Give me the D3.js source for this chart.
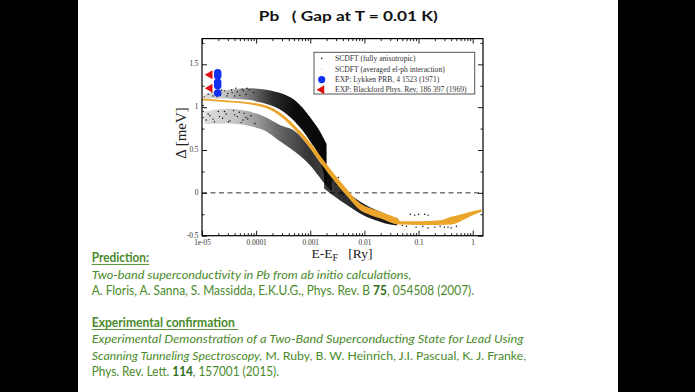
<!DOCTYPE html>
<html><head><meta charset="utf-8">
<script src="https://cdn.jsdelivr.net/npm/d3@7"></script>
<style>body{margin:0;background:#000}svg{display:block}</style>
</head><body><svg id="c" width="695" height="392"></svg>
<script>
// ---------- data ----------
const xTickValues = [1e-5, 1e-4, 1e-3, 1e-2, 1e-1, 1];
const xTickLabels = ["1e-05", "0.0001", "0.001", "0.01", "0.1", "1"];
const yTickValues = [-0.5, 0, 0.5, 1, 1.5];
const yTickLabels = ["-0.5", "0", "0.5", "1", "1.5"];
const yMinorValues = [-0.25, 0.25, 0.75, 1.25, 1.75];

const legendLabels = ["SCDFT (fully anisotropic)", "SCDFT (averaged el-ph interaction)",
  "EXP: Lykken PRB, 4 1523 (1971)", "EXP: Blackford Phys. Rev, 186 397 (1969)"];

// SCDFT fully anisotropic: upper band (dense cloud) edges
const aX  = [1.1e-5, 2e-5, 4e-5, 7e-5, 1.3e-4, 2.6e-4, 5.2e-4, 1e-3, 1.5e-3, 2e-3];
const aHi = [1.15, 1.19, 1.21, 1.22, 1.21, 1.17, 1.08, 0.88, 0.72, 0.57];
const aLo = [1.10, 1.10, 1.095, 1.085, 1.05, 0.98, 0.83, 0.60, 0.40, 0.08];
// lower band
const bX  = [1.1e-5, 3e-5, 1.3e-4, 2.8e-4, 5.2e-4, 1e-3, 1.5e-3, 2e-3, 2.5e-3];
const bHi = [0.95, 0.98, 0.90, 0.79, 0.72, 0.52, 0.36, 0.25, 0.17];
const bLo = [0.80, 0.81, 0.74, 0.60, 0.48, 0.32, 0.18, 0.08, 0.02];
// merged band after the crossing
const cX  = [1.8e-3, 2.5e-3, 3.5e-3, 5e-3, 8.3e-3, 1.3e-2, 2e-2, 3e-2, 4e-2];
const cHi = [0.30, 0.20, 0.09, 0.0, -0.10, -0.17, -0.22, -0.28, -0.31];
const cLo = [0.05, -0.02, -0.085, -0.15, -0.24, -0.30, -0.34, -0.37, -0.38];
// isolated anisotropic points
const sX = [1.05e-5,1.05e-5,1.05e-5,1.1e-5,1.3e-5,1.6e-5,1.8e-5,2.2e-5,2.6e-5,3e-5,3.5e-5,4e-5,4.5e-5,5.5e-5,6.5e-5,7.5e-5,9e-5,
  1.2e-5,1.4e-5,1.7e-5,2e-5,2.4e-5,2.8e-5,3.3e-5,3.8e-5,4.5e-5,5.3e-5,6e-5,7e-5,8e-5,9.5e-5,
  1.5e-5,1.9e-5,2.3e-5,2.9e-5,3.6e-5,4.2e-5,5e-5,5.8e-5,6.8e-5,
  1.3e-5,1.6e-5,2.1e-5,2.6e-5,3.1e-5,4e-5,4.9e-5,5.7e-5,6.5e-5,
  2.2e-3,2.6e-3,3e-3,3.3e-3,2.4e-3,4e-3,5.5e-3,6.5e-3,
  0.07,0.085,0.1,0.13,0.15,0.06,0.09,0.15,0.2,0.3,0.4,0.5,0.6,0.8,0.05,0.12,0.25,0.35];
const sY = [1.02,0.95,0.88,1.12,1.15,1.13,1.17,1.14,1.19,1.16,1.2,1.13,1.18,1.21,1.15,1.2,1.17,
  0.85,0.9,0.83,0.95,0.87,0.92,0.84,0.96,0.89,0.82,0.93,0.86,0.9,0.81,
  1.18,1.12,1.2,1.13,1.17,1.22,1.14,1.19,1.22,
  0.92,0.86,0.89,0.95,0.83,0.91,0.94,0.85,0.88,
  0.2,0.15,0.1,0.18,0.05,-0.02,-0.05,-0.1,
  -0.25,-0.26,-0.25,-0.25,-0.26,-0.39,-0.40,-0.41,-0.40,-0.40,-0.41,-0.39,-0.30,-0.28,-0.38,-0.39,-0.39,-0.40];

// SCDFT averaged el-ph interaction: band edges
const oX  = [1e-5, 3e-5, 1e-4, 2e-4, 3e-4, 5e-4, 7e-4, 1e-3, 1.5e-3, 2.3e-3, 3.5e-3, 4.8e-3, 8.3e-3, 1.3e-2, 2e-2, 3.5e-2, 4.2e-2, 4.5e-2, 0.1, 0.25, 0.4, 0.7, 1.1, 1.45];
const oHi = [1.10, 1.077, 1.045, 0.99, 0.92, 0.795, 0.70, 0.585, 0.44, 0.285, 0.14, 0.04, -0.12, -0.18, -0.22, -0.28, -0.30, -0.33, -0.33, -0.32, -0.28, -0.24, -0.21, -0.19];
const oLo = [1.08, 1.057, 1.02, 0.955, 0.88, 0.745, 0.64, 0.515, 0.36, 0.205, 0.06, -0.04, -0.20, -0.26, -0.30, -0.36, -0.37, -0.37, -0.375, -0.375, -0.37, -0.31, -0.25, -0.22];

// experiments
const lykkenX = [1.95e-5, 1.95e-5, 1.95e-5, 1.95e-5, 1.95e-5];
const lykkenY = [1.40, 1.367, 1.29, 1.25, 1.165];
const blackfordX = [1.4e-5, 1.4e-5];
const blackfordY = [1.378, 1.222];

// ---------- drawing ----------
const svg = d3.select("#c");
svg.append("rect").attr("width", 695).attr("height", 392).attr("fill", "#000");
svg.append("rect").attr("x", 78).attr("width", 540).attr("height", 392).attr("fill", "#fff");

const L = 202, R = 483, T = 38.6, B = 235.7;
const x = d3.scaleLog().domain([1e-5, 1.55]).range([L, R]);
const y = d3.scaleLinear().domain([-0.5, 1.8]).range([B, T]);

// title
svg.append("text").attr("x", 348.3).attr("y", 20.5).attr("text-anchor", "middle")
  .attr("font-family", "Lato, 'Open Sans', sans-serif").attr("font-weight", "bold").attr("font-size", 13.5)
  .attr("fill", "#111").style("white-space", "pre")
  .attr("textLength", 179).attr("lengthAdjust", "spacingAndGlyphs")
  .text("Pb   ( Gap at T = 0.01 K)");

const defs = svg.append("defs");
defs.append("clipPath").attr("id", "clip").append("rect")
  .attr("x", L).attr("y", T).attr("width", R - L).attr("height", B - T);

function grad(id, stops) {
  const g = defs.append("linearGradient").attr("id", id).attr("gradientUnits", "userSpaceOnUse")
    .attr("x1", L).attr("x2", R).attr("y1", 0).attr("y2", 0);
  stops.forEach(s => g.append("stop").attr("offset", (x(s[0]) - L) / (R - L)).attr("stop-color", "#000").attr("stop-opacity", s[1]));
  return `url(#${id})`;
}
const gA = grad("gA", [[1e-5, 0.12], [3e-5, 0.25], [8e-5, 0.55], [2e-4, 0.82], [5e-4, 0.95], [2e-3, 0.97]]);
const gB = grad("gB", [[1e-5, 0.12], [5e-5, 0.25], [1.3e-4, 0.45], [3e-4, 0.62], [1e-3, 0.8], [2.5e-3, 0.75]]);
const gC = grad("gC", [[1.8e-3, 0.75], [1e-2, 0.88], [4e-2, 0.92]]);

const plot = svg.append("g").attr("clip-path", "url(#clip)");

function band(xs, lo, hi, fill) {
  const pts = xs.map((v, i) => [v, lo[i], hi[i]]);
  plot.append("path").datum(pts)
    .attr("d", d3.area().x(d => x(d[0])).y0(d => y(d[1])).y1(d => y(d[2])).curve(d3.curveMonotoneX))
    .attr("fill", fill);
}
// zero line
plot.append("line").attr("x1", L).attr("x2", R).attr("y1", y(0)).attr("y2", y(0))
  .attr("stroke", "#333").attr("stroke-width", 1).attr("stroke-dasharray", "5,3.5");

band(aX, aLo, aHi, gA);
band(bX, bLo, bHi, gB);
band(cX, cLo, cHi, gC);
plot.append("g").selectAll("circle").data(sX.map((v, i) => [v, sY[i]])).join("circle")
  .attr("cx", d => x(d[0])).attr("cy", d => y(d[1])).attr("r", 0.7).attr("fill", "#000");
band(oX, oLo, oHi, "#eba52a");

// experiments
const tri = d3.symbol().type(d3.symbolTriangle).size(34);
svg.append("g").selectAll("path").data(blackfordX.map((v, i) => [v, blackfordY[i]])).join("path")
  .attr("d", tri).attr("transform", d => `translate(${x(d[0])},${y(d[1])}) rotate(-90)`)
  .attr("fill", "#e01010");
svg.append("g").selectAll("circle").data(lykkenX.map((v, i) => [v, lykkenY[i]])).join("circle")
  .attr("cx", d => x(d[0])).attr("cy", d => y(d[1])).attr("r", 3.8).attr("fill", "#1030f0");

// axes with inward ticks on all four sides
const serif = "'Liberation Serif', 'DejaVu Serif', serif";
const minorX = [];
for (let e = -5; e <= 0; e++) for (let k = 2; k <= 9; k++) { const v = k * Math.pow(10, e); if (v <= 1.55) minorX.push(v); }
function axis(gen, tx, ty, vals, size, labels, pad) {
  const a = gen.tickValues(vals).tickSizeInner(-size).tickSizeOuter(0).tickPadding(pad || 3)
    .tickFormat(labels ? (d, i) => labels[i] : "");
  const g = svg.append("g").attr("transform", `translate(${tx},${ty})`).call(a);
  g.select(".domain").remove();
  g.selectAll("line").attr("stroke", "#000").attr("stroke-width", 0.9);
  g.selectAll("text").attr("font-family", serif).attr("font-size", 7.3).attr("fill", "#333");
  return g;
}
axis(d3.axisBottom(x), 0, B, xTickValues, 5, xTickLabels, 4);
axis(d3.axisBottom(x), 0, B, minorX, 2.5, null);
axis(d3.axisTop(x), 0, T, xTickValues, 5, null);
axis(d3.axisTop(x), 0, T, minorX, 2.5, null);
const yl = axis(d3.axisLeft(y), L, 0, yTickValues, 5, yTickLabels, 3.5);
yl.selectAll("text").attr("dy", "0.2em");
axis(d3.axisLeft(y), L, 0, yMinorValues.filter(v => v < 1.8), 2.5, null);
axis(d3.axisRight(y), R, 0, yTickValues, 5, null);
axis(d3.axisRight(y), R, 0, yMinorValues.filter(v => v < 1.8), 2.5, null);

svg.append("rect").attr("x", L).attr("y", T).attr("width", R - L).attr("height", B - T)
  .attr("fill", "none").attr("stroke", "#000").attr("stroke-width", 1.2);

// legend
const lg = svg.append("g");
lg.append("rect").attr("x", 314).attr("y", 52.3).attr("width", 160.7).attr("height", 41.7)
  .attr("fill", "#fff").attr("stroke", "#555").attr("stroke-width", 1);
const ly = [58.3, 69, 79.6, 89.8];
lg.append("circle").attr("cx", 321.7).attr("cy", ly[0]).attr("r", 0.8).attr("fill", "#000");
lg.append("circle").attr("cx", 321.7).attr("cy", ly[1]).attr("r", 0.8).attr("fill", "#f3d9a0");
lg.append("circle").attr("cx", 321.7).attr("cy", ly[2]).attr("r", 3.6).attr("fill", "#1030f0");
lg.append("path").attr("d", tri).attr("transform", `translate(321.7,${ly[3]}) rotate(-90)`).attr("fill", "#e01010");
legendLabels.forEach((t, i) => lg.append("text").attr("x", 335).attr("y", ly[i]).attr("dy", "0.33em")
  .attr("font-family", serif).attr("font-size", 7.6).attr("fill", "#333").text(t));

// axis titles
svg.append("text").attr("transform", "translate(185.5,133) rotate(-90)").attr("text-anchor", "middle")
  .attr("font-family", serif).attr("font-size", 15).attr("fill", "#222").text("Δ [meV]");
const xl = svg.append("text").attr("x", 342).attr("y", 258).attr("text-anchor", "middle")
  .attr("font-family", serif).attr("font-size", 13.5).attr("fill", "#222").style("white-space", "pre");
xl.append("tspan").text("E-E");
xl.append("tspan").attr("font-size", 10).attr("dy", 3).text("F");
xl.append("tspan").attr("dy", -3).text("   [Ry]");

// notes
const noteLines = [
  [{t: "Prediction:", b: 1}],
  [{t: "Two-band superconductivity in Pb from ab initio calculations,", i: 1}],
  [{t: "A. Floris, A. Sanna, S. Massidda, E.K.U.G., Phys. Rev. B "}, {t: "75", b: 1}, {t: ", 054508 (2007)."}],
  [{t: "Experimental confirmation", b: 1}],
  [{t: "Experimental Demonstration of a Two-Band Superconducting State for Lead Using", i: 1}],
  [{t: "Scanning Tunneling Spectroscopy,", i: 1}, {t: " M. Ruby, B. W. Heinrich, J.I. Pascual, K. J. Franke,"}],
  [{t: "Phys. Rev. Lett. "}, {t: "114", b: 1}, {t: ", 157001 (2015)."}]
];
const noteY = [262, 279, 295, 327, 343, 359.5, 376];
const noteW = [57.3, 320, 382.6, 143.3, 431.6, 434.3, 187.3];
const green = "#4a8a2a";
noteLines.forEach((segs, k) => {
  const g = svg.append("g");
  const t = g.append("text").attr("x", 0).attr("y", 0)
    .attr("font-family", "Lato, 'Open Sans', sans-serif").attr("font-size", 12.4).attr("fill", green)
    .style("white-space", "pre");
  segs.forEach(s => t.append("tspan").attr("font-weight", s.b ? "bold" : "normal")
    .attr("font-style", s.i ? "italic" : "normal").attr("fill", s.b && segs.length > 1 ? "#2e6e18" : green).text(s.t));
  const w = t.node().getComputedTextLength() || noteW[k];
  g.attr("transform", `translate(91.7,${noteY[k]}) scale(${noteW[k] / w},1)`);
});
svg.append("rect").attr("x", 91.7).attr("y", 264).attr("width", 57.5).attr("height", 0.9).attr("fill", green);
svg.append("rect").attr("x", 91.7).attr("y", 329).attr("width", 146.5).attr("height", 0.9).attr("fill", green);
</script></body></html>
